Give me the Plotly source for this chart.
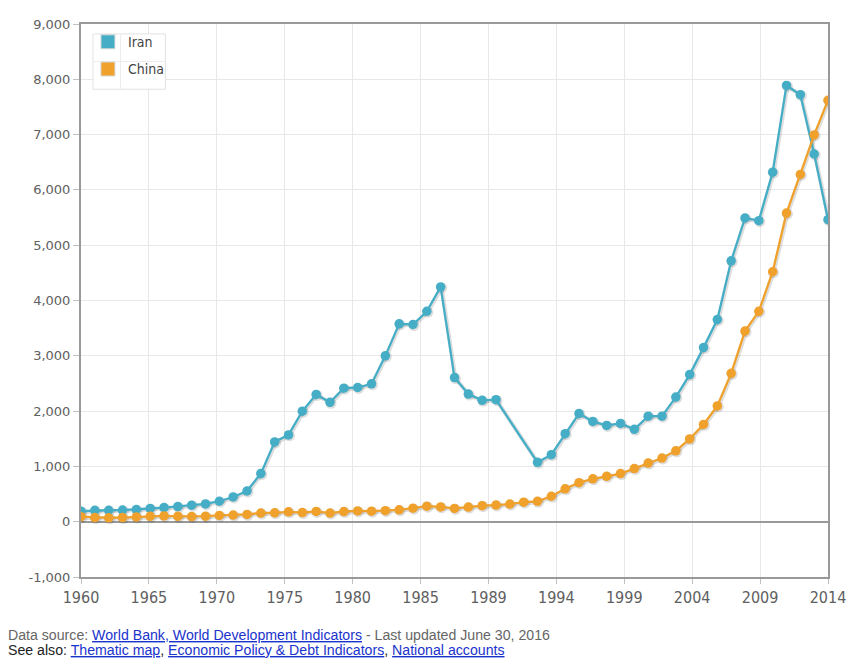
import numpy as np
import plotly.graph_objects as go

YEARS = list(range(1960, 2015))

IRAN = [191, 205, 207, 210, 220, 239, 256, 274, 298, 322,
        370, 447, 555, 870, 1443, 1570, 1998, 2302, 2159, 2415,
        2427, 2493, 2999, 3578, 3566, 3804, 4246, 2606, 2308, 2194,
        2206, None, None, 1073, 1211, 1592, 1956, 1813, 1740, 1777,
        1670, 1908, 1908, 2254, 2660, 3148, 3655, 4717, 5492, 5444,
        6321, 7889, 7722, 6649, 5462]

CHINA = [90, 75, 71, 74, 86, 98, 104, 97, 92, 100,
         113, 119, 132, 157, 160, 178, 165, 185, 156, 184,
         195, 190, 200, 215, 245, 280, 268, 240, 265, 290,
         300, 318, 352, 368, 460, 595, 705, 775, 820, 871,
         960, 1061, 1151, 1282, 1497, 1759, 2093, 2683, 3447, 3804,
         4520, 5581, 6279, 6995, 7621]

X_TICK_LABELS = ["1960", "1965", "1970", "1975", "1980", "1985",
                 "1989", "1994", "1999", "2004", "2009", "2014"]
Y_TICK_VALUES = [-1000, 0, 1000, 2000, 3000, 4000, 5000, 6000, 7000, 8000, 9000]
Y_TICK_LABELS = ["-1,000", "0", "1,000", "2,000", "3,000", "4,000",
                 "5,000", "6,000", "7,000", "8,000", "9,000"]
SERIES_NAMES = ["Iran", "China"]
COLORS = ["#45AEC6", "#EFA12B"]

X_RANGE = [YEARS[0], YEARS[-1]]
Y_RANGE = [-1000, 9000]
PLOT_W, PLOT_H = 751, 560  # plot area in pixels

fig = go.Figure()

# soft drop shadow: same data on a hidden overlay axis pair shifted by 1px right/down
dx = (X_RANGE[1] - X_RANGE[0]) / PLOT_W
dy = (Y_RANGE[1] - Y_RANGE[0]) / PLOT_H
for name, vals in zip(SERIES_NAMES, [IRAN, CHINA]):
    fig.add_trace(go.Scatter(
        x=YEARS, y=vals, mode="lines+markers", xaxis="x2", yaxis="y2",
        connectgaps=True, showlegend=False, hoverinfo="skip",
        line=dict(color="rgba(0,0,0,0.13)", width=4),
        marker=dict(color="rgba(0,0,0,0.13)", size=11)))

for name, vals, col in zip(SERIES_NAMES, [IRAN, CHINA], COLORS):
    fig.add_trace(go.Scatter(
        x=YEARS, y=vals, mode="lines+markers", name=name, xaxis="x3", yaxis="y3",
        connectgaps=True, showlegend=False,
        line=dict(color=col, width=2.3),
        marker=dict(color=col, size=9.5),
        hovertemplate="%{x}: %{y:,.0f}<extra>" + name + "</extra>"))
for name, col in zip(SERIES_NAMES, COLORS):
    fig.add_trace(go.Scatter(
        x=[None], y=[None], mode="markers", name=name,
        legendgroup=name,
        marker=dict(symbol="square", size=14, color=col,
                    line=dict(color="#d8d8d8", width=1))))

tickvals = np.linspace(YEARS[0], YEARS[-1], len(X_TICK_LABELS))

hidden = dict(visible=False, fixedrange=True)
# page body has an 8px margin: figure is 847x653 so the plot lands where the reference has it
fig.update_layout(
    width=847, height=653,
    margin=dict(l=73, r=23, t=9, b=84),
    paper_bgcolor="white", plot_bgcolor="white",
    font=dict(family="DejaVu Sans", size=13, color="#606060"),
    xaxis=dict(range=X_RANGE, tickvals=tickvals,
               ticktext=X_TICK_LABELS,
               tickfont=dict(family="Liberation Sans Narrow, DejaVu Sans Condensed, sans-serif",
                             size=16, color="#606060"),
               showgrid=True, gridcolor="#e8e8e8", gridwidth=1,
               showline=True, mirror=True, linecolor="#999999", linewidth=2,
               ticks="outside", ticklen=5, tickcolor="#c0c0c0",
               zeroline=False, fixedrange=True),
    yaxis=dict(range=Y_RANGE, tickvals=Y_TICK_VALUES, ticktext=Y_TICK_LABELS,
               tickfont=dict(family="DejaVu Sans", size=13, color="#606060"),
               showgrid=True, gridcolor="#e8e8e8", gridwidth=1,
               showline=True, mirror=True, linecolor="#999999", linewidth=2,
               ticks="outside", ticklen=6, tickcolor="#c0c0c0",
               zeroline=True, zerolinecolor="#999999", zerolinewidth=2,
               fixedrange=True),
    xaxis2=dict(overlaying="x", range=[X_RANGE[0] - dx, X_RANGE[1] - dx], **hidden),
    yaxis2=dict(overlaying="y", range=[Y_RANGE[0] + dy, Y_RANGE[1] + dy], **hidden),
    xaxis3=dict(overlaying="x", range=X_RANGE, **hidden),
    yaxis3=dict(overlaying="y", range=Y_RANGE, **hidden),
    legend=dict(x=0.0093, y=0.996, xanchor="left", yanchor="top",
                bgcolor="rgba(0,0,0,0)", borderwidth=0,
                traceorder="grouped", tracegroupgap=6,
                font=dict(family="Liberation Sans Narrow, DejaVu Sans Condensed, sans-serif",
                          size=14, color="#444444")),
    hovermode="closest",
)

# legend frame (table-like cells)
lx0, lx1, lxm = 0.016, 0.113, 0.053
ly0, ly1, lym = 0.882, 0.982, 0.932
fig.add_shape(type="rect", xref="paper", yref="paper", x0=lx0, x1=lx1, y0=ly0, y1=ly1,
              line=dict(color="#e2e2e2", width=1), fillcolor="white", layer="above")
fig.add_shape(type="line", xref="paper", yref="paper", x0=lxm, x1=lxm, y0=ly0, y1=ly1,
              line=dict(color="#ececec", width=1), layer="above")
fig.add_shape(type="line", xref="paper", yref="paper", x0=lx0, x1=lx1, y0=lym, y1=lym,
              line=dict(color="#ececec", width=1), layer="above")

link = '<span style="color:#1a33cc"><u>{}</u></span>'
fig.add_annotation(xref="paper", yref="paper", x=-0.0999, y=-0.105,
                   xanchor="left", yanchor="middle", showarrow=False, align="left",
                   font=dict(family="Liberation Sans", size=14.15, color="#666666"),
                   text="Data source: " + link.format("World Bank, World Development Indicators")
                   + " - Last updated June 30, 2016")
fig.add_annotation(xref="paper", yref="paper", x=-0.0999, y=-0.1315,
                   xanchor="left", yanchor="middle", showarrow=False, align="left",
                   font=dict(family="Liberation Sans", size=14.15, color="#222222"),
                   text="See also: " + link.format("Thematic map") + ", "
                   + link.format("Economic Policy &amp; Debt Indicators") + ", "
                   + link.format("National accounts"))

fig.write_html("out.html")
